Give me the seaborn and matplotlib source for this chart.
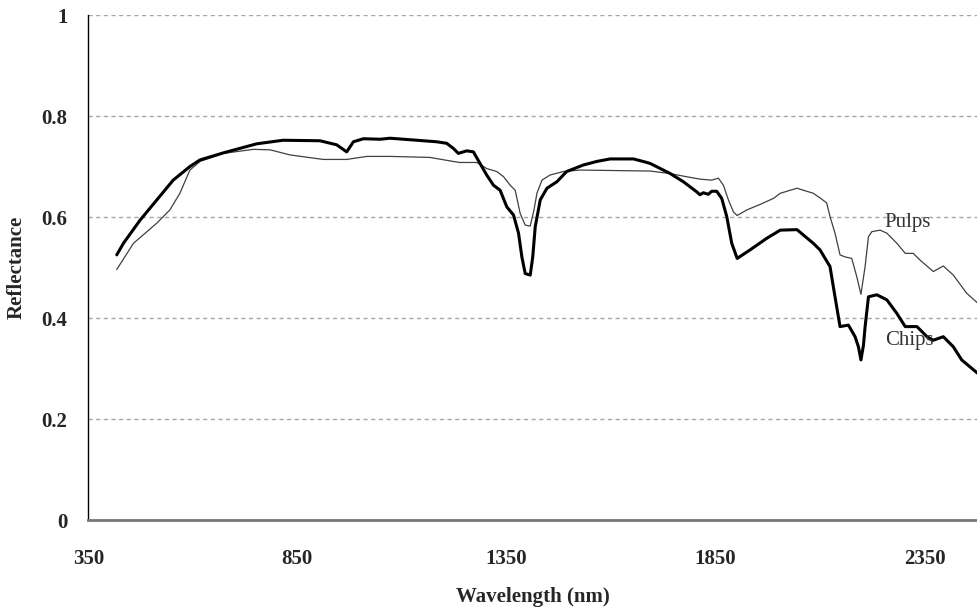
import matplotlib
matplotlib.use("Agg")
import matplotlib.pyplot as plt
import seaborn as sns
import pandas as pd

# Reflectance spectra
chips_wl = [418, 434, 474, 514, 553, 593, 617, 673, 753, 816, 904, 944, 968, 984, 1008,
            1048, 1072, 1136, 1183, 1207, 1223, 1235, 1255, 1271, 1287, 1303, 1319, 1335,
            1351, 1367, 1379, 1387, 1395, 1407, 1413, 1419, 1431, 1447, 1471, 1494, 1534,
            1566, 1598, 1654, 1686, 1694, 1742, 1773, 1805, 1813, 1821, 1833, 1841, 1853,
            1865, 1877, 1889, 1902, 1933, 1973, 2005, 2045, 2084, 2100, 2124, 2136, 2148,
            2168, 2184, 2192, 2198, 2204, 2208, 2216, 2236, 2260, 2284, 2304, 2332, 2356,
            2371, 2395, 2419, 2439, 2478]
chips_refl = [0.525, 0.548, 0.594, 0.634, 0.673, 0.700, 0.713, 0.727, 0.745, 0.752, 0.751,
              0.743, 0.729, 0.749, 0.755, 0.754, 0.756, 0.752, 0.749, 0.746, 0.736, 0.726,
              0.731, 0.729, 0.706, 0.683, 0.663, 0.653, 0.620, 0.604, 0.568, 0.521, 0.488,
              0.485, 0.521, 0.581, 0.634, 0.657, 0.670, 0.690, 0.703, 0.710, 0.715, 0.715,
              0.708, 0.706, 0.686, 0.670, 0.650, 0.644, 0.648, 0.645, 0.651, 0.651, 0.637,
              0.601, 0.548, 0.518, 0.535, 0.558, 0.574, 0.575, 0.548, 0.535, 0.502, 0.442,
              0.383, 0.386, 0.363, 0.343, 0.317, 0.346, 0.383, 0.442, 0.446, 0.436, 0.409,
              0.383, 0.383, 0.363, 0.356, 0.363, 0.343, 0.317, 0.290]

pulps_wl = [418, 458, 514, 545, 569, 593, 617, 673, 745, 785, 832, 912, 968, 1016, 1072,
            1167, 1223, 1239, 1279, 1303, 1327, 1343, 1359, 1371, 1383, 1395, 1407, 1416,
            1423, 1435, 1454, 1486, 1526, 1694, 1742, 1773, 1813, 1841, 1857, 1869, 1881,
            1893, 1902, 1925, 1957, 1989, 2005, 2045, 2084, 2100, 2116, 2124, 2136, 2148,
            2160, 2176, 2188, 2198, 2208, 2216, 2224, 2244, 2260, 2284, 2304, 2323, 2339,
            2371, 2395, 2419, 2451, 2478]
pulps_refl = [0.496, 0.548, 0.588, 0.614, 0.647, 0.693, 0.710, 0.726, 0.734, 0.733, 0.723,
              0.714, 0.714, 0.720, 0.720, 0.718, 0.710, 0.708, 0.708, 0.696, 0.690, 0.680,
              0.663, 0.653, 0.607, 0.584, 0.582, 0.614, 0.647, 0.673, 0.683, 0.690, 0.693,
              0.691, 0.686, 0.681, 0.675, 0.673, 0.677, 0.663, 0.634, 0.610, 0.603, 0.614,
              0.625, 0.637, 0.647, 0.657, 0.647, 0.638, 0.628, 0.601, 0.568, 0.525, 0.521,
              0.518, 0.482, 0.447, 0.502, 0.561, 0.571, 0.574, 0.568, 0.548, 0.528, 0.528,
              0.515, 0.492, 0.503, 0.485, 0.449, 0.429]

x_ticks = [350, 850, 1350, 1850, 2350]
y_ticks = [0, 0.2, 0.4, 0.6, 0.8, 1]
y_tick_labels = ["0", "0.2", "0.4", "0.6", "0.8", "1"]

chips = pd.DataFrame({"Wavelength": chips_wl, "Reflectance": chips_refl})
pulps = pd.DataFrame({"Wavelength": pulps_wl, "Reflectance": pulps_refl})

sns.set_style("white")
plt.rcParams["font.family"] = ["Liberation Serif", "DejaVu Serif"]

fig = plt.figure(figsize=(9.78, 6.10), dpi=100)
ax = fig.add_axes([0.0903, 0.1475, 0.9097, 0.8279])

sns.lineplot(data=pulps, x="Wavelength", y="Reflectance", ax=ax,
             color="#404040", linewidth=0.9, estimator=None, sort=False)
sns.lineplot(data=chips, x="Wavelength", y="Reflectance", ax=ax,
             color="black", linewidth=2.2, estimator=None, sort=False)

ax.set_xlim(350, 2478)
ax.set_ylim(0, 1)
ax.set_xticks(x_ticks)
ax.set_yticks(y_ticks)
ax.set_yticklabels(y_tick_labels)

ax.yaxis.grid(True, color="#a6a6a6", linestyle=(0, (3, 2.5)), linewidth=1)
ax.xaxis.grid(False)
ax.set_axisbelow(True)

for side in ["top", "right"]:
    ax.spines[side].set_visible(False)
ax.spines["left"].set_color("black")
ax.spines["left"].set_linewidth(1)
ax.spines["bottom"].set_color("#777777")
ax.spines["bottom"].set_linewidth(2)

ax.tick_params(axis="both", direction="out", length=6, width=1, color="black",
               labelsize=15)
ax.tick_params(axis="x", pad=15)
ax.tick_params(axis="y", pad=9)
for lab in ax.get_xticklabels() + ax.get_yticklabels():
    lab.set_fontweight("bold")

ax.set_xlabel("Wavelength (nm)", fontsize=15, fontweight="bold", labelpad=13)
ax.set_ylabel("Reflectance", fontsize=15, fontweight="bold", labelpad=11)

ax.text(2254, 0.59, "Pulps", fontsize=15, color="#333333", va="center", ha="left")
ax.text(2255, 0.355, "Chips", fontsize=15, color="#333333", va="center", ha="left")

fig.savefig("out.png", dpi=100)
